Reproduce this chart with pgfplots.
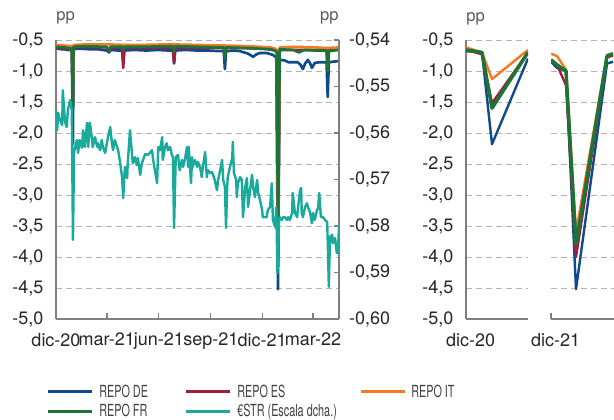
\documentclass[border=0pt]{standalone}
\usepackage{pgfplots}
\pgfplotsset{compat=1.18}
\usepackage{fontspec}
\setmainfont{TeX Gyre Heros}
\usepackage{graphicx}

\definecolor{deblue}{HTML}{104A8C}
\definecolor{esred}{HTML}{A01E3C}
\definecolor{itorange}{HTML}{F57823}
\definecolor{frgreen}{HTML}{1E7337}
\definecolor{estrteal}{HTML}{19AA9B}
\definecolor{axisgray}{HTML}{7F7F7F}
\definecolor{gridgray}{HTML}{B4B4B4}

\newcommand{\leg}[1]{\scalebox{0.65}[1]{\fontsize{12.5}{14}\selectfont #1}}
\tikzset{unitlbl/.style={text=black!65, font=\fontsize{12.5}{14}\selectfont, inner sep=0pt}}

\pgfplotsset{
  panel/.style={
    anchor=south west, scale only axis, height=209.25pt,
    ymin=-5, ymax=-0.5,
    ytick={-5,-4.5,-4,-3.5,-3,-2.5,-2,-1.5,-1,-0.5},
    ymajorgrids,
    grid style={draw=gridgray, line width=0.75pt, dash pattern=on 4.5pt off 3pt},
    axis x line*=bottom, axis y line*=left,
    axis line style={draw=axisgray, line width=1pt, -},
    tick align=inside, major tick length=4.5pt,
    xtick style={draw=axisgray, line width=1pt},
    ytick style={draw=none},
    tick label style={font=\fontsize{13.5}{16}\selectfont, text=black!85},
    xticklabel style={yshift=-7pt},
    yticklabel style={xshift=-6pt},
    clip mode=individual,
    every axis plot/.append style={line join=round, no marks},
  },
  ylabs/.style={yticklabels={{-5,0},{-4,5},{-4,0},{-3,5},{-3,0},{-2,5},{-2,0},{-1,5},{-1,0},{-0,5}}},
}

\begin{document}
\begin{tikzpicture}
\path[use as bounding box] (0,0) rectangle (460.5pt,314.25pt);
\clip (0,0) rectangle (460.5pt,314.25pt);

% left panel, REPO rates (left scale)
\begin{axis}[panel, ylabs, at={(42pt,75pt)}, width=212.25pt,
  xmin=0, xmax=501,
  xtick={0,90,182,274,365,455},
  xticklabels={dic-20,mar-21,jun-21,sep-21,dic-21,mar-22}]
\addplot[deblue, line width=2pt] coordinates {
 (0,-0.63) (5,-0.64) (10,-0.65) (15,-0.65) (20,-0.66) (25,-0.66) (28,-0.68) (30,-2.18) (31,-0.66)
 (35,-0.64) (45,-0.64) (60,-0.65) (75,-0.65) (90,-0.67) (94,-0.70) (97,-0.66) (110,-0.67)
 (117,-0.67) (119,-0.85) (121,-0.67) (140,-0.66) (160,-0.67) (180,-0.66) (200,-0.67)
 (207,-0.67) (209,-0.88) (211,-0.67) (230,-0.66) (250,-0.67) (270,-0.67) (290,-0.68)
 (297,-0.68) (299,-0.97) (301,-0.68) (315,-0.67) (326,-0.68) (340,-0.72) (349,-0.77)
 (355,-0.73) (361,-0.71) (373,-0.71) (384,-0.74) (390,-0.78) (393,-4.52) (396,-0.82)
 (405,-0.83) (412,-0.86) (420,-0.86) (428,-0.86) (433,-0.90) (437,-0.97) (441,-0.88)
 (446,-0.82) (450,-0.88) (453,-0.95) (458,-0.87) (465,-0.86) (475,-0.86) (479,-0.86)
 (481,-1.42) (483,-0.86) (490,-0.85) (501,-0.84)};
\addplot[esred, line width=2pt] coordinates {
 (0,-0.62) (15,-0.63) (28,-0.66) (30,-1.52) (31,-0.62) (50,-0.61) (90,-0.62) (94,-0.68)
 (97,-0.62) (117,-0.62) (119,-0.95) (121,-0.62) (150,-0.62) (207,-0.62) (209,-0.86)
 (211,-0.62) (250,-0.62) (297,-0.63) (299,-0.72) (301,-0.63) (330,-0.63) (370,-0.64)
 (388,-0.67) (391,-0.70) (393,-4.00) (396,-0.66) (430,-0.66) (479,-0.66) (481,-0.98)
 (483,-0.66) (501,-0.65)};
\addplot[itorange, line width=2pt] coordinates {
 (0,-0.58) (15,-0.59) (28,-0.60) (30,-1.13) (31,-0.58) (60,-0.57) (90,-0.57) (120,-0.58)
 (150,-0.58) (200,-0.57) (250,-0.58) (300,-0.59) (340,-0.60) (380,-0.62) (388,-0.64)
 (391,-0.66) (393,-3.65) (396,-0.62) (420,-0.61) (460,-0.62) (480,-0.63) (501,-0.62)};
\addplot[frgreen, line width=2pt] coordinates {
 (0,-0.61) (15,-0.62) (28,-0.64) (30,-1.60) (31,-0.61) (50,-0.60) (90,-0.61) (94,-0.67)
 (97,-0.61) (117,-0.61) (119,-0.66) (121,-0.61) (150,-0.61) (200,-0.60) (207,-0.60)
 (209,-0.70) (211,-0.60) (250,-0.61) (297,-0.62) (299,-0.80) (301,-0.62) (340,-0.63)
 (380,-0.65) (388,-0.67) (391,-0.70) (393,-3.80) (396,-0.65) (420,-0.66) (430,-0.70)
 (440,-0.66) (460,-0.67) (479,-0.67) (481,-1.00) (483,-0.68) (501,-0.66)};
\node[unitlbl, anchor=west] at ([yshift=16.5pt]rel axis cs:0,1) {pp};
\node[unitlbl, anchor=east] at ([yshift=16.5pt]rel axis cs:1,1) {pp};
\end{axis}

% left panel, ESTR (right scale)
\begin{axis}[at={(42pt,75pt)}, anchor=south west, scale only axis,
  width=212.25pt, height=209.25pt,
  xmin=0, xmax=501, ymin=-0.60, ymax=-0.54,
  axis x line=none, axis y line*=right,
  axis line style={draw=axisgray, line width=1pt, -},
  ytick={-0.60,-0.59,-0.58,-0.57,-0.56,-0.55,-0.54},
  yticklabels={{-0,60},{-0,59},{-0,58},{-0,57},{-0,56},{-0,55},{-0,54}},
  tick align=inside, major tick length=3.5pt,
  ytick style={draw=axisgray, line width=1pt},
  tick label style={font=\fontsize{13.5}{16}\selectfont, text=black!85},
  yticklabel style={xshift=4pt}]
\addplot[estrteal, line width=1.8pt, line join=round, no marks] coordinates {
 (0,-0.5551) (2,-0.5594) (4,-0.5557) (7,-0.5572) (11,-0.5583) (12,-0.5508) (16,-0.5576)
 (19,-0.5587) (21,-0.5551) (25,-0.5529) (28,-0.5551) (30,-0.5830) (32,-0.5641) (34,-0.5630)
 (37,-0.5615) (39,-0.5643) (42,-0.5615) (46,-0.5632) (48,-0.5594) (51,-0.5630) (55,-0.5578)
 (57,-0.5630) (60,-0.5578) (64,-0.5615) (65,-0.5630) (69,-0.5609) (73,-0.5630) (74,-0.5622)
 (78,-0.5637) (81,-0.5615) (83,-0.5630) (87,-0.5643) (92,-0.5609) (96,-0.5587) (99,-0.5622)
 (101,-0.5637) (104,-0.5615) (110,-0.5637) (113,-0.5660) (117,-0.5695) (119,-0.5740)
 (122,-0.5673) (126,-0.5697) (127,-0.5665) (131,-0.5594) (135,-0.5652) (136,-0.5665)
 (140,-0.5652) (143,-0.5669) (145,-0.5654) (149,-0.5690) (152,-0.5665) (158,-0.5645)
 (163,-0.5647) (170,-0.5637) (172,-0.5658) (179,-0.5708) (181,-0.5630) (184,-0.5637)
 (188,-0.5609) (189,-0.5658) (193,-0.5630) (196,-0.5622) (198,-0.5637) (202,-0.5630)
 (205,-0.5647) (207,-0.5652) (209,-0.5804) (212,-0.5652) (216,-0.5647) (219,-0.5680)
 (223,-0.5658) (225,-0.5673) (228,-0.5658) (232,-0.5630) (234,-0.5673) (235,-0.5630)
 (239,-0.5708) (241,-0.5652) (242,-0.5673) (246,-0.5658) (250,-0.5673) (251,-0.5662)
 (255,-0.5673) (258,-0.5695) (260,-0.5673) (264,-0.5641) (267,-0.5695) (269,-0.5680)
 (273,-0.5686) (276,-0.5684) (278,-0.5690) (281,-0.5701) (285,-0.5723) (287,-0.5701)
 (290,-0.5684) (294,-0.5658) (296,-0.5701) (299,-0.5716) (301,-0.5804) (303,-0.5716)
 (304,-0.5695) (308,-0.5673) (312,-0.5654) (313,-0.5619) (315,-0.5686) (319,-0.5701)
 (320,-0.5738) (322,-0.5708) (326,-0.5695) (329,-0.5701) (331,-0.5781) (335,-0.5716)
 (338,-0.5697) (340,-0.5759) (343,-0.5729) (347,-0.5690) (349,-0.5716) (352,-0.5738)
 (356,-0.5701) (358,-0.5729) (361,-0.5744) (365,-0.5766) (366,-0.5781) (373,-0.5781)
 (375,-0.5766) (379,-0.5759) (382,-0.5708) (384,-0.5787) (388,-0.5802) (390,-0.5759)
 (392,-0.5901) (395,-0.5787) (396,-0.5781) (400,-0.5787) (402,-0.5781) (405,-0.5781)
 (409,-0.5787) (411,-0.5781) (414,-0.5787) (418,-0.5772) (419,-0.5729) (423,-0.5772)
 (427,-0.5781) (428,-0.5766) (432,-0.5723) (434,-0.5718) (435,-0.5772) (437,-0.5781)
 (441,-0.5759) (444,-0.5751) (446,-0.5759) (450,-0.5772) (453,-0.5794) (455,-0.5772)
 (458,-0.5787) (462,-0.5766) (464,-0.5761) (466,-0.5729) (469,-0.5781) (473,-0.5781)
 (476,-0.5787) (480,-0.5791) (481,-0.5830) (483,-0.5931) (485,-0.5824) (489,-0.5819)
 (490,-0.5837) (494,-0.5826) (497,-0.5858) (499,-0.5858) (501,-0.5802)};
\end{axis}

% right panel, year-end 2020 zoom
\begin{axis}[panel, ylabs, at={(349.5pt,75pt)}, width=46.5pt,
  xmin=0, xmax=62, xtick={0}, xticklabels={dic-20},
  xticklabel style={xshift=3.5pt}]
\addplot[deblue, line width=1.8pt] coordinates {(0,-0.68) (16,-0.70) (26,-2.18) (62,-0.80)};
\addplot[esred, line width=1.8pt] coordinates {(0,-0.66) (16,-0.73) (26,-1.52) (62,-0.70)};
\addplot[itorange, line width=1.8pt] coordinates {(0,-0.62) (16,-0.70) (26,-1.13) (62,-0.66)};
\addplot[frgreen, line width=2.6pt] coordinates {(0,-0.66) (16,-0.70) (26,-1.60) (62,-0.70)};
\node[unitlbl, anchor=west] at ([yshift=16pt]rel axis cs:0,1) {pp};
\end{axis}

% right panel, year-end 2021 zoom
\begin{axis}[panel, at={(413.25pt,75pt)}, width=47.25pt,
  xmin=0, xmax=63, xtick={0}, xticklabels={dic-21},
  xticklabel style={xshift=3.5pt},
  yticklabels={}, y axis line style={draw=none}]
\addplot[deblue, line width=1.8pt] coordinates {(0,-0.85) (6,-0.95) (15,-1.00) (25,-4.52) (56,-0.88) (62,-0.85)};
\addplot[esred, line width=1.8pt] coordinates {(0,-0.82) (6,-0.90) (15,-1.23) (25,-4.00) (56,-0.78) (62,-0.75)};
\addplot[itorange, line width=1.8pt] coordinates {(0,-0.72) (6,-0.76) (15,-0.98) (25,-3.60) (56,-0.74) (62,-0.72)};
\addplot[frgreen, line width=2.6pt] coordinates {(0,-0.82) (6,-0.90) (15,-1.00) (25,-3.80) (56,-0.76) (62,-0.72)};
\end{axis}

% legend
\draw[deblue, line width=2.25pt] (36pt,20.5pt) -- (69pt,20.5pt);
\node[anchor=base west, inner sep=0, text=black!75] at (74.25pt,16.5pt) {\leg{REPO DE}};
\draw[esred, line width=2.25pt] (139.5pt,20.5pt) -- (172.5pt,20.5pt);
\node[anchor=base west, inner sep=0, text=black!75] at (177.75pt,16.5pt) {\leg{REPO ES}};
\draw[itorange, line width=2.25pt] (270.75pt,20.5pt) -- (303.75pt,20.5pt);
\node[anchor=base west, inner sep=0, text=black!75] at (308.25pt,16.5pt) {\leg{REPO IT}};
\draw[frgreen, line width=2.25pt] (36pt,5.75pt) -- (69pt,5.75pt);
\node[anchor=base west, inner sep=0, text=black!75] at (74.25pt,2.25pt) {\leg{REPO FR}};
\draw[estrteal, line width=2.25pt] (139.5pt,5.75pt) -- (172.5pt,5.75pt);
\node[anchor=base west, inner sep=0, text=black!75] at (177.75pt,2.25pt) {\leg{€STR (Escala dcha.)}};
\end{tikzpicture}
\end{document}
